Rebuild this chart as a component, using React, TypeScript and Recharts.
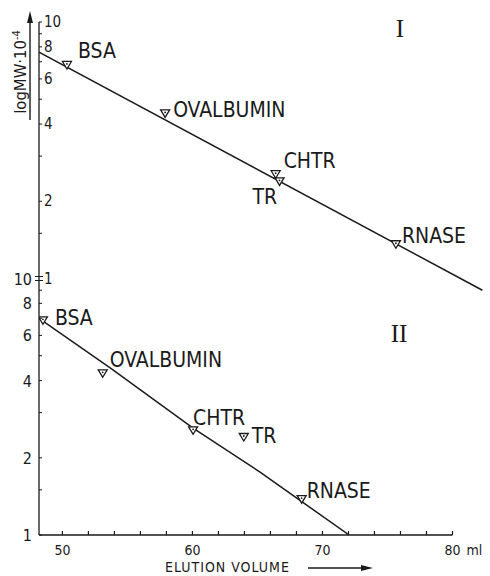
import React from 'react';
import { ComposedChart, Line, Scatter, XAxis, YAxis, ReferenceLine } from 'recharts';

const PROTEINS = ['BSA', 'OVALBUMIN', 'CHTR', 'TR', 'RNASE'];

// panel I (upper) — elution volume (ml) and MW·10^-4
const VOLUME_I = [50.35, 57.9, 66.4, 66.7, 75.65];
const MW_I = [6.8, 4.4, 2.55, 2.39, 1.36];
const FIT_VOLUME_I = [48.2, 82.3];
const FIT_MW_I = [7.63, 0.9];

// panel II (lower)
const VOLUME_II = [48.5, 53.1, 60.05, 63.95, 68.4];
const MW_II = [6.87, 4.27, 2.56, 2.41, 1.38];
const FIT_VOLUME_II = [48.2, 53.7, 60.05, 65.2, 67.7, 72.05];
const FIT_MW_II = [6.99, 4.47, 2.61, 1.76, 1.43, 1.0];

const X_TICKS = [50, 52, 54, 56, 58, 60, 62, 64, 66, 68, 70, 72, 74, 76, 78, 80];
const X_LABELS = [50, 60, 70, 80];
const Y_TICKS = [1, 1.5, 2, 3, 4, 5, 6, 7, 8, 9, 10];
const Y_LABELS = [1, 2, 4, 6, 8, 10];

// panel I is drawn one decade above panel II on the shared log axis
const DECADE = 10;

const INK = '#1a1a1a';
const FONT = "'DejaVu Sans Condensed', 'Liberation Sans Narrow', 'DejaVu Sans', sans-serif";
const SERIF = "'Liberation Serif', 'DejaVu Serif', serif";

// label offsets from the marker, per panel
const LABEL_POS: Record<string, Record<string, [number, number]>> = {
  I: { BSA: [11, -7], OVALBUMIN: [8, 4], CHTR: [8, -6], TR: [-27, 23], RNASE: [6, -1] },
  II: { BSA: [12, 5], OVALBUMIN: [7, -6], CHTR: [0, -5], TR: [8, 6], RNASE: [5, -1] },
};

const pointsI = PROTEINS.map((name, i) => ({ name, panel: 'I', v: VOLUME_I[i], mw: MW_I[i] * DECADE }));
const pointsII = PROTEINS.map((name, i) => ({ name, panel: 'II', v: VOLUME_II[i], mw: MW_II[i] }));
const fitI = FIT_VOLUME_I.map((v, i) => ({ v, mw: FIT_MW_I[i] * DECADE }));
const fitII = FIT_VOLUME_II.map((v, i) => ({ v, mw: FIT_MW_II[i] }));
const yTicks = [...Y_TICKS, ...Y_TICKS.slice(1).map((t) => t * DECADE)];

function Marker(props: any) {
  const { cx, cy, payload } = props;
  const [dx, dy] = LABEL_POS[payload.panel][payload.name];
  return (
    <g>
      <polygon
        points={`${cx - 4.5},${cy - 3.5} ${cx + 4.5},${cy - 3.5} ${cx},${cy + 4}`}
        fill="#fff"
        stroke={INK}
        strokeWidth={1.3}
      />
      <circle cx={cx} cy={cy - 1} r={0.9} fill={INK} />
      <text x={cx + dx} y={cy + dy} fontFamily={FONT} fontSize={21} fill={INK}>
        {payload.name}
      </text>
    </g>
  );
}

function XTick(props: any) {
  const { x, y, payload } = props;
  const v = payload.value;
  return (
    <g>
      <line x1={x} x2={x} y1={y} y2={y - 4} stroke={INK} strokeWidth={1.2} />
      {X_LABELS.includes(v) && (
        <text x={x} y={y + 20} textAnchor="middle" fontFamily={FONT} fontSize={14} fill={INK}>
          {v}
        </text>
      )}
      {v === 80 && (
        <text x={x + 14} y={y + 20} fontFamily={FONT} fontSize={14} fill={INK}>
          ml
        </text>
      )}
    </g>
  );
}

function YTick(props: any) {
  const { x, y, payload } = props;
  const v = payload.value;
  const lower = v <= DECADE;
  const upper = v >= DECADE;
  return (
    <g>
      {v === DECADE ? (
        <>
          <line x1={x - 4} x2={x + 4} y1={y - 2} y2={y - 2} stroke={INK} strokeWidth={1} />
          <line x1={x - 4} x2={x + 4} y1={y + 2} y2={y + 2} stroke={INK} strokeWidth={1} />
        </>
      ) : (
        <line x1={x} x2={x + 3} y1={y} y2={y} stroke={INK} strokeWidth={1} />
      )}
      {lower && Y_LABELS.includes(v) && (
        <text x={x - 7} y={y + 6} textAnchor="end" fontFamily={FONT} fontSize={16} fill={INK}>
          {v}
        </text>
      )}
      {upper && Y_LABELS.includes(v / DECADE) && (
        <text x={x + 5} y={y + 5} fontFamily={FONT} fontSize={15} fill={INK}>
          {v / DECADE}
        </text>
      )}
    </g>
  );
}

export default function App() {
  return (
    <div style={{ position: 'absolute', left: 0, top: 0, width: 490, height: 576, background: '#fff' }}>
      <ComposedChart width={490} height={576} margin={{ top: 22, right: 5, bottom: 5, left: 38 }}>
        <XAxis
          dataKey="v"
          type="number"
          domain={[48.2, 82.5]}
          allowDataOverflow
          ticks={X_TICKS}
          interval={0}
          tick={<XTick />}
          tickLine={false}
          tickSize={0}
          tickMargin={0}
          axisLine={false}
          height={36}
        />
        <YAxis
          dataKey="mw"
          type="number"
          scale="log"
          domain={[1, 100]}
          allowDataOverflow
          ticks={yTicks}
          interval={0}
          tick={<YTick />}
          tickLine={false}
          tickSize={0}
          tickMargin={0}
          axisLine={{ stroke: INK, strokeWidth: 1.3 }}
          width={1}
        />
        <ReferenceLine
          segment={[{ x: 48.2, y: 1 }, { x: 80, y: 1 }]}
          stroke={INK}
          strokeWidth={1.3}
        />
        <Line data={fitI} dataKey="mw" type="linear" stroke={INK} strokeWidth={1.5} dot={false} isAnimationActive={false} />
        <Line data={fitII} dataKey="mw" type="linear" stroke={INK} strokeWidth={1.5} dot={false} isAnimationActive={false} />
        <Scatter data={pointsI} dataKey="mw" shape={<Marker />} isAnimationActive={false} />
        <Scatter data={pointsII} dataKey="mw" shape={<Marker />} isAnimationActive={false} />
      </ComposedChart>
      <svg width={490} height={576} style={{ position: 'absolute', left: 0, top: 0, pointerEvents: 'none' }}>
        <text x={400} y={37} textAnchor="middle" fontFamily={SERIF} fontSize={25} fill={INK}>
          I
        </text>
        <text x={399} y={342} textAnchor="middle" fontFamily={SERIF} fontSize={25} fill={INK}>
          II
        </text>
        <text transform="translate(26,72) rotate(-90)" textAnchor="middle" fontFamily={FONT} fontSize={16.5} fill={INK}>
          logMW·10
          <tspan dy={-6} fontSize={11}>
            -4
          </tspan>
        </text>
        <line x1={30} x2={30} y1={120} y2={20} stroke={INK} strokeWidth={1.4} />
        <polygon points="30,11 27,23 33,23" fill={INK} />
        <text x={165} y={572} fontFamily={FONT} fontSize={14} letterSpacing={1} fill={INK}>
          ELUTION VOLUME
        </text>
        <line x1={308} x2={364} y1={568} y2={568} stroke={INK} strokeWidth={1.4} />
        <polygon points="373,568 361,565 361,571" fill={INK} />
      </svg>
    </div>
  );
}
